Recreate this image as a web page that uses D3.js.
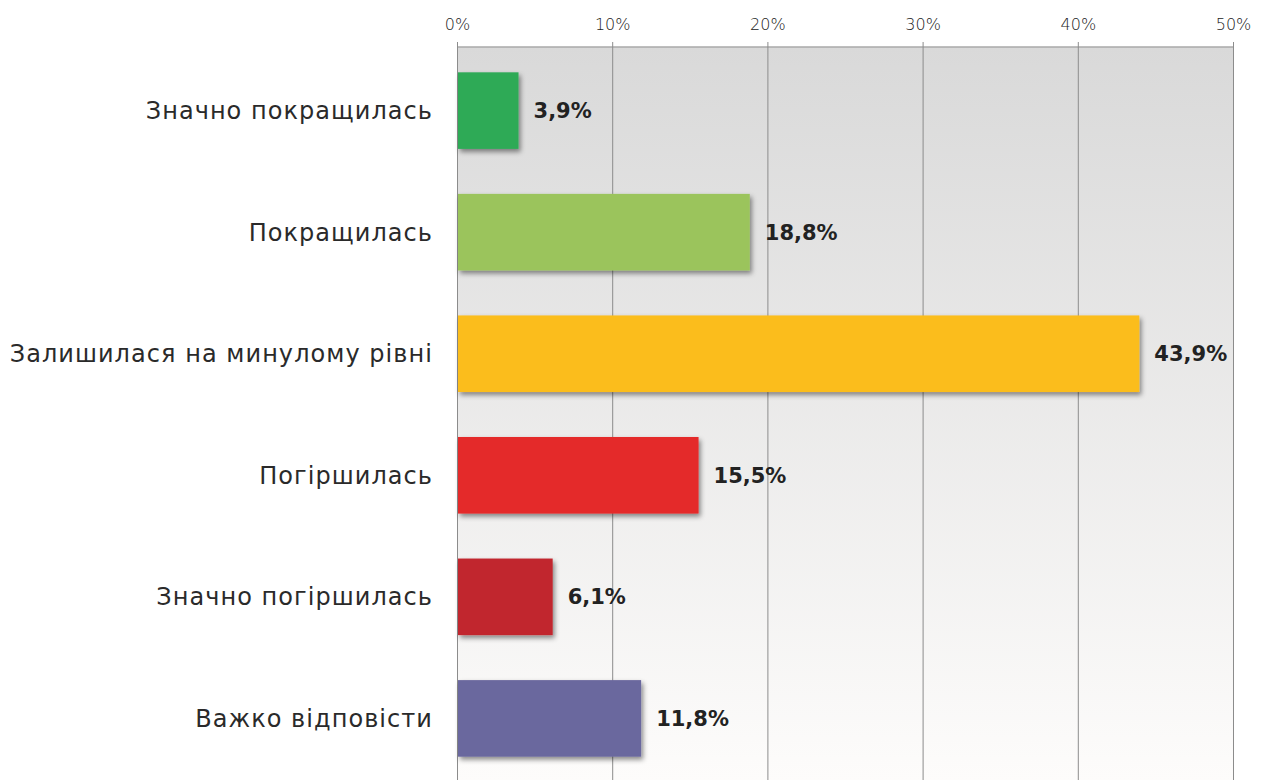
<!DOCTYPE html>
<html>
<head>
<meta charset="utf-8">
<script src="https://cdn.jsdelivr.net/npm/d3@7"></script>
<style>
  body { margin: 0; background: #fff; }
  svg { display: block; font-family: "DejaVu Sans", sans-serif; }
</style>
</head>
<body>
<svg id="chart" width="1262" height="780"></svg>
<script>
var categories = ["Значно покращилась", "Покращилась", "Залишилася на минулому рівні",
                  "Погіршилась", "Значно погіршилась", "Важко відповісти"];
var values = [3.9, 18.8, 43.9, 15.5, 6.1, 11.8];
var barColors = ["#2eaa57", "#9bc45b", "#fbbd1e", "#e42b2b", "#c1272d", "#6a679e"];
var tickValues = [0, 10, 20, 30, 40, 50];

var svg = d3.select("#chart");
var plotLeft = 457, plotRight = 1233, plotTop = 47, plotBottom = 780;

var x = d3.scaleLinear().domain([0, 50]).range([plotLeft, plotRight]);
var y = d3.scaleBand().domain(categories).range([plotTop + 1, plotBottom + 1])
	.paddingInner(0.37).paddingOuter(0.2);

var defs = svg.append("defs");
var grad = defs.append("linearGradient").attr("id", "bg").attr("x1", 0).attr("y1", 0).attr("x2", 0).attr("y2", 1);
grad.append("stop").attr("offset", "0%").attr("stop-color", "#d9d9d9");
grad.append("stop").attr("offset", "100%").attr("stop-color", "#fdfcfb");

var shadow = defs.append("filter").attr("id", "shadow").attr("x", "-10%").attr("y", "-10%").attr("width", "130%").attr("height", "140%");
shadow.append("feDropShadow").attr("dx", 2).attr("dy", 3).attr("stdDeviation", 2.5)
	.attr("flood-color", "#000").attr("flood-opacity", 0.45);

// plot background
svg.append("rect")
	.attr("x", plotLeft).attr("y", plotTop)
	.attr("width", plotRight - plotLeft).attr("height", plotBottom - plotTop)
	.attr("fill", "url(#bg)");

// top border
svg.append("line")
	.attr("x1", plotLeft).attr("x2", plotRight)
	.attr("y1", plotTop).attr("y2", plotTop)
	.attr("stroke", "#a8a8a8").attr("stroke-width", 1.5);

// axis on top with grid
var xAxis = d3.axisTop(x).tickValues(tickValues)
	.tickFormat(function (d) { return d + "%"; })
	.tickSize(plotBottom - plotTop + 5).tickPadding(12);

var axisG = svg.append("g")
	.attr("transform", "translate(0," + plotBottom + ")")
	.call(xAxis);
axisG.select(".domain").remove();
axisG.selectAll(".tick line").attr("stroke", "#8c8c8c").attr("stroke-width", 1);
axisG.selectAll(".tick text")
	.attr("font-size", 16).attr("fill", "#222")
	.attr("font-family", "\"DejaVu Sans\", sans-serif").attr("font-weight", 200);

// bars
svg.append("g").selectAll("rect")
	.data(values)
	.enter()
	.append("rect")
	.attr("x", x(0) + 1)
	.attr("y", function (d, i) { return y(categories[i]); })
	.attr("width", function (d) { return x(d) - x(0); })
	.attr("height", y.bandwidth())
	.attr("fill", function (d, i) { return barColors[i]; })
	.attr("filter", "url(#shadow)");

// value labels
svg.append("g").selectAll("text")
	.data(values)
	.enter()
	.append("text")
	.attr("x", function (d) { return x(d) + 16; })
	.attr("y", function (d, i) { return y(categories[i]) + y.bandwidth() / 2; })
	.attr("dy", "0.35em")
	.attr("font-size", 21).attr("font-weight", "bold").attr("fill", "#222")
	.text(function (d) { return d3.format(".1f")(d).replace(".", ",") + "%"; });

// category labels
svg.append("g").selectAll("text")
	.data(categories)
	.enter()
	.append("text")
	.attr("x", 433)
	.attr("y", function (d) { return y(d) + y.bandwidth() / 2; })
	.attr("dy", "0.35em")
	.attr("text-anchor", "end")
	.attr("font-size", 24).attr("fill", "#2a2a2a")
	.attr("letter-spacing", 1.05)
	.text(function (d) { return d; });
</script>
</body>
</html>
